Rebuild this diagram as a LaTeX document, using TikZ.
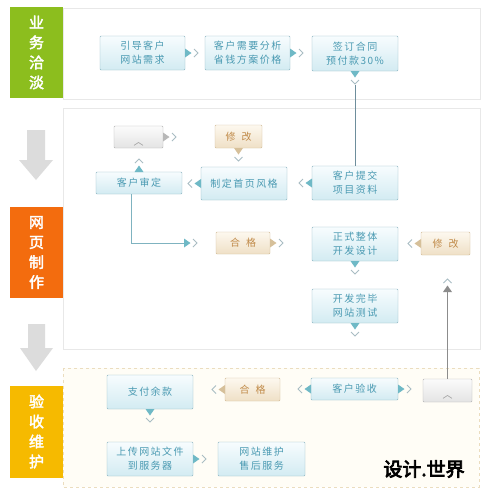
\documentclass[tikz,border=0pt]{standalone}
\usepackage{fontspec}
\newfontfamily\cjk{Noto Sans CJK SC}[LetterSpace=15]
\newfontfamily\cjkbold{Noto Sans CJK SC}[FakeBold=2.5]
\newfontfamily\cjkmark{Noto Sans CJK SC}[FakeBold=4]
\usetikzlibrary{calc}
\definecolor{lgreen}{HTML}{8CBE1E}
\definecolor{lorange}{HTML}{F36C0E}
\definecolor{lyellow}{HTML}{F6BA00}
\definecolor{bborder}{HTML}{8DB6C2}
\definecolor{btop}{HTML}{F7FCFE}
\definecolor{bbot}{HTML}{D3EBF2}
\definecolor{btext}{HTML}{4A9AB2}
\definecolor{tborder}{HTML}{D2BC98}
\definecolor{ttop}{HTML}{FDF8EF}
\definecolor{tbot}{HTML}{EFE0C6}
\definecolor{ttext}{HTML}{C08A48}
\definecolor{gborder}{HTML}{B4B4B4}
\definecolor{gtop}{HTML}{FBFBFB}
\definecolor{gbot}{HTML}{E4E4E4}
\definecolor{tealfill}{HTML}{6FB9C6}
\definecolor{tanfill}{HTML}{D6C09A}
\definecolor{grayfill}{HTML}{B8B8B8}
\definecolor{darkgrayfill}{HTML}{8C8C8C}
\definecolor{chevcol}{HTML}{A9BDC3}
\definecolor{panelcol}{HTML}{E8E8E8}
\definecolor{creambg}{HTML}{FFFDF6}
\definecolor{creamline}{HTML}{EBDDBF}
\definecolor{arrowgray}{HTML}{DCDCDC}
\definecolor{linecol}{HTML}{7FB3C0}
\definecolor{vlinecol}{HTML}{6E8E9C}
\tikzset{
  every node/.style={inner sep=0pt, outer sep=0pt},
  bluebox/.style={draw=bborder, top color=btop, bottom color=bbot, rounded corners=1pt,
    text=btext, font=\cjk\fontsize{10}{14}\selectfont, align=center,
    minimum width=86pt, minimum height=34pt},
  tanbox/.style={draw=tborder, top color=ttop, bottom color=tbot, rounded corners=1pt,
    text=ttext, font=\cjk\fontsize{10}{14}\selectfont, align=center,
    minimum width=48pt, minimum height=23pt},
  graybox/.style={draw=gborder, top color=gtop, bottom color=gbot, rounded corners=1pt,
    text=gray!80, font=\cjk\fontsize{10}{14}\selectfont, align=center,
    minimum width=49pt, minimum height=22pt},
  stagebox/.style={text=white, font=\cjkbold\fontsize{15}{20}\selectfont, align=center,
    minimum width=53pt},
  panel/.style={draw=panelcol, line width=0.8pt},
  chevron/.style={draw=chevcol, line width=0.8pt},
  flowline/.style={draw=linecol, line width=0.9pt},
  pics/ptr/.style={code={
    \fill[#1] (0,-4.5) -- (6.5,0) -- (0,4.5) -- cycle;
    \draw[chevron] (9,-4) -- (13,0) -- (9,4);
  }},
}
\newcommand\sadface{\raisebox{-8pt}[0pt][0pt]{︿}}
\begin{document}
\begin{tikzpicture}[x=1pt,y=-1pt]
\useasboundingbox[fill=white] (0,0) rectangle (488,499);

% panels
\draw[panel] (63,8) rectangle (480,99);
\draw[panel] (63,108) rectangle (480,349);
\draw[fill=creambg, draw=creamline, dashed, line width=0.8pt] (63,368) rectangle (479,487);

% stage labels
\node[stagebox, fill=lgreen, minimum height=91pt] (s1) at (36.5,52.5) {业\\务\\洽\\淡};
\node[stagebox, fill=lorange, minimum height=91pt] (s2) at (36.5,252.5) {网\\页\\制\\作};
\node[stagebox, fill=lyellow, minimum height=92pt] (s3) at (36.5,431.5) {验\\收\\维\\护};

% big gray arrows
\fill[arrowgray] (27,130) -- (45,130) -- (45,160) -- (53,160) -- (36,180) -- (19,160) -- (27,160) -- cycle;
\fill[arrowgray] (28,324) -- (45,324) -- (45,348) -- (53,348) -- (36,371) -- (20,348) -- (28,348) -- cycle;

% row 1
\node[bluebox, minimum width=85pt] (n1) at (142.5,53) {引导客户\\网站需求};
\node[bluebox, minimum width=85pt] (n2) at (247.5,53) {客户需要分析\\省钱方案价格};
\node[bluebox, minimum height=35pt] (n3) at (355,53.5) {签订合同\\预付款30\%};

% middle panel
\node[bluebox] (n4) at (355,183) {客户提交\\项目资料};
\node[bluebox, minimum height=33pt] (n5) at (244,183.5) {制定首页风格};
\node[bluebox, minimum height=22pt] (n6) at (139,183) {客户审定};
\node[graybox] (g1) at (138.5,137) {\sadface};
\node[tanbox, minimum width=47pt] (t1) at (238.5,136.5) {修\hspace{0.6em}改};
\node[tanbox, minimum width=54pt, minimum height=22pt] (t2) at (243,243) {合\hspace{0.6em}格};
\node[bluebox] (n7) at (355,244) {正式整体\\开发设计};
\node[tanbox, minimum width=49pt] (t3) at (445.5,243.5) {修\hspace{0.6em}改};
\node[bluebox] (n8) at (355,306) {开发完毕\\网站测试};

% bottom panel
\node[bluebox] (n9) at (150,392) {支付余款};
\node[bluebox] (n10) at (150,459) {上传网站文件\\到服务器};
\node[bluebox, minimum width=87pt] (n11) at (261.5,459) {网站维护\\售后服务};
\node[tanbox, minimum width=55pt] (t4) at (252.5,389.5) {合\hspace{0.6em}格};
\node[bluebox, minimum width=87pt, minimum height=22pt] (n12) at (354.5,389) {客户验收};
\node[graybox, minimum height=23pt] (g2) at (447.5,390.5) {\sadface};

% watermark
\node[font=\cjkmark\fontsize{19}{20}\selectfont, text=black] (wm) at (424,469) {设计.世界};

% pointers
\pic at (n1.east) {ptr=tealfill};
\pic at (n2.east) {ptr=tealfill};
\pic[rotate=-90] at (n3.south) {ptr=tealfill};
\pic[rotate=180] at (n4.west) {ptr=tealfill};
\pic[rotate=180] at (n5.west) {ptr=tealfill};
\pic[rotate=90] at (n6.north) {ptr=tealfill};
\pic at (g1.east) {ptr=grayfill};
\pic[rotate=-90] at (t1.south) {ptr=tanfill};
\pic at (t2.east) {ptr=tanfill};
\pic[rotate=180] at (t3.west) {ptr=tanfill};
\pic[rotate=-90] at (n7.south) {ptr=tealfill};
\pic[rotate=-90] at (n8.south) {ptr=tealfill};
\pic[rotate=180] at (t4.west) {ptr=tanfill};
\pic[rotate=180] at (n12.west) {ptr=tealfill};
\pic at (n12.east) {ptr=tealfill};
\pic[rotate=-90] at (n9.south) {ptr=tealfill};
\pic at (n10.east) {ptr=tealfill};

% connectors
\coordinate (c3) at ($(n3.south)+(0,14)$);
\draw[draw=vlinecol, line width=0.9pt] (c3) -- (n4.north);

\coordinate (a1) at ($(t2.west)+(-32,0)$);
\draw[flowline] ([xshift=-8pt]n6.south) |- (a1);
\pic at (a1) {ptr=tealfill};

\coordinate (a2) at ($(t3.south)+(2,37)$);
\draw[draw=darkgrayfill, line width=0.9pt] (g2.north) -- (a2);
\pic[rotate=90] at (a2) {ptr=darkgrayfill};
\end{tikzpicture}
\end{document}
